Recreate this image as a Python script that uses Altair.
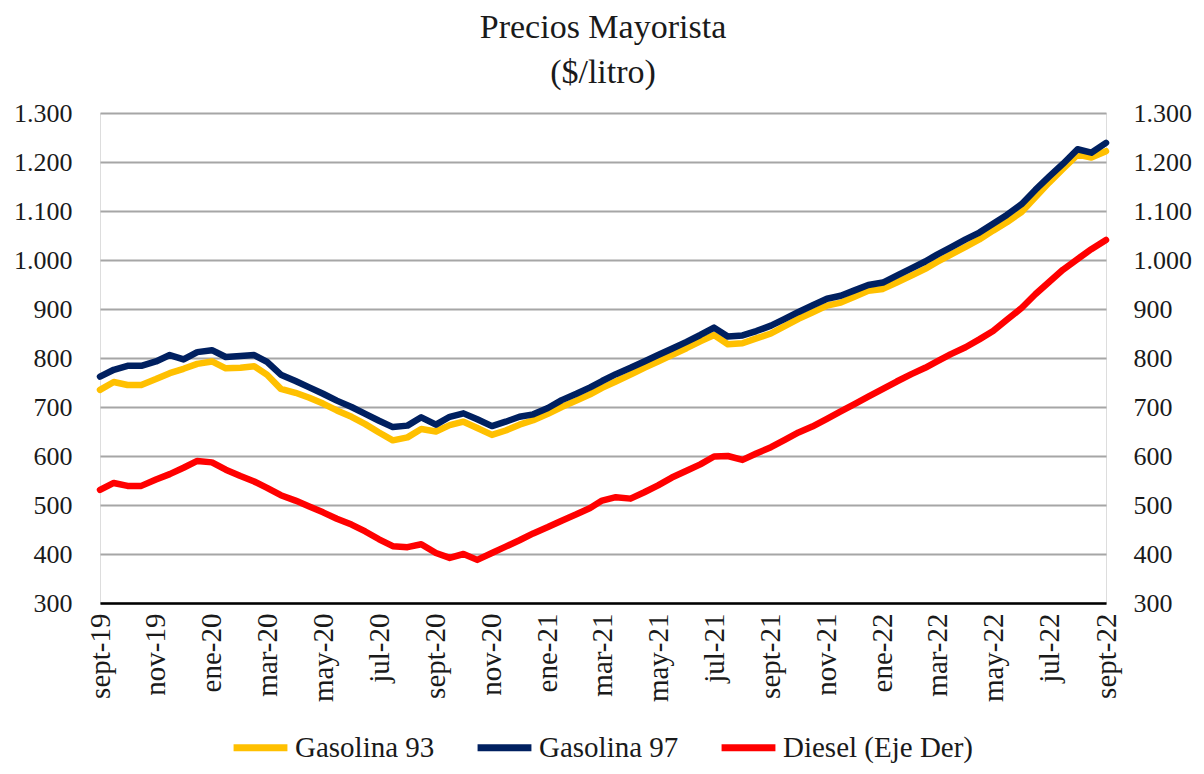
import altair as alt
import pandas as pd

# semimonthly observation dates, sept-2019 .. sept-2022
months = []
y, m = 2019, 9
while (y, m) <= (2022, 9):
    months.append((y, m))
    m += 1
    if m > 12:
        m, y = 1, y + 1
dates = []
for (yy, mm) in months:
    dates.append(f"{yy}-{mm:02d}-01")
    if (yy, mm) != (2022, 9):
        dates.append(f"{yy}-{mm:02d}-16")

gasolina_97 = [762, 776, 784, 784, 793, 806, 797, 812, 816, 802, 804, 806, 792, 766, 753, 740,
               727, 713, 700, 686, 672, 659, 662, 679, 664, 680, 687, 675, 661, 670, 680, 685,
               698, 714, 727, 740, 753, 767, 780, 793, 806, 819, 833, 847, 862, 844, 846, 855,
               866, 880, 894, 907, 921, 927, 938, 949, 954, 968, 983, 997, 1011, 1026, 1042, 1056,
               1074, 1092, 1114, 1143, 1170, 1196, 1226, 1219, 1239]
gasolina_93 = [735, 751, 745, 745, 757, 769, 778, 788, 793, 779, 780, 783, 766, 737, 729, 719,
               707, 693, 680, 665, 648, 632, 638, 655, 650, 663, 670, 657, 643, 652, 664, 673,
               686, 700, 713, 726, 739, 752, 766, 780, 793, 806, 820, 834, 847, 828, 830, 840,
               850, 865, 880, 893, 907, 913, 925, 937, 941, 954, 968, 982, 996, 1011, 1027, 1042,
               1060, 1077, 1098, 1128, 1158, 1186, 1215, 1209, 1222]
diesel = [531, 545, 539, 539, 552, 563, 576, 590, 587, 572, 559, 548, 535, 520, 509, 497,
          485, 472, 460, 446, 430, 416, 414, 420, 402, 392, 400, 388, 402, 415, 428, 442,
          455, 468, 481, 494, 509, 516, 513, 526, 540, 556, 570, 583, 599, 600, 592, 605,
          618, 633, 648, 660, 676, 691, 706, 721, 737, 752, 767, 780, 793, 808, 822, 838,
          855, 878, 902, 930, 955, 980, 1002, 1022, 1041]

series_names = ["Gasolina 93", "Gasolina 97", "Diesel (Eje Der)"]
series_colors = ["#FFC000", "#002060", "#FF0000"]
y_ticks = [300, 400, 500, 600, 700, 800, 900, 1000, 1100, 1200, 1300]
month_names = ["ene", "feb", "mar", "abr", "may", "jun", "jul", "ago", "sept", "oct", "nov", "dic"]
x_tick_months = months[::2]

rows = []
for name, vals in zip(series_names, [gasolina_93, gasolina_97, diesel]):
    for d, v in zip(dates, vals):
        rows.append({"fecha": d, "serie": name, "valor": v})
df = pd.DataFrame(rows)

FONT = "Liberation Serif"
TXT = "#1a1a1a"

label_expr = ("[" + ",".join(f"'{s}'" for s in month_names) + "][utcmonth(datum.value)]"
              " + '-' + utcFormat(datum.value, '%y')")

x_enc = alt.X(
    "fecha:T",
    scale=alt.Scale(type="utc",
                    domain=[alt.DateTime(year=2019, month=9, date=1, utc=True),
                            alt.DateTime(year=2022, month=9, date=1, utc=True)]),
    axis=alt.Axis(
        values=[alt.DateTime(year=yy, month=mm, date=1, utc=True) for (yy, mm) in x_tick_months],
        labelExpr=label_expr, labelAngle=270, labelAlign="right", labelBaseline="middle",
        labelFontSize=29, labelFont=FONT, labelColor=TXT, labelPadding=10,
        ticks=False, grid=False, domain=True, domainColor="#000000", domainWidth=2.5,
        labelOverlap=False, labelFlush=False, title=None),
)

color_enc = alt.Color(
    "serie:N",
    scale=alt.Scale(domain=series_names, range=series_colors),
    legend=alt.Legend(orient="none", legendX=130, legendY=604, direction="horizontal",
                      title=None, symbolType="stroke", symbolSize=2900, symbolStrokeWidth=7,
                      labelFontSize=29, labelFont=FONT, labelColor=TXT, labelOffset=4,
                      columnPadding=28, labelLimit=400),
)

yscale = alt.Scale(domain=[300, 1300], nice=False, zero=False)
ylabel = "replace(format(datum.value, ','), ',', '.')"

base = alt.Chart(df)

left = base.transform_filter(
    alt.FieldOneOfPredicate(field="serie", oneOf=series_names[:2])
).mark_line(strokeWidth=6.5, strokeJoin="round", strokeCap="round").encode(
    x=x_enc,
    y=alt.Y("valor:Q", scale=yscale,
            axis=alt.Axis(orient="left", values=y_ticks, labelExpr=ylabel, labelFontSize=26,
                          labelFont=FONT, labelColor=TXT, labelPadding=28, ticks=False,
                          domain=False, grid=True, gridColor="#a6a6a6", gridWidth=2, title=None)),
    color=color_enc,
)

right = base.transform_filter(
    alt.FieldEqualPredicate(field="serie", equal=series_names[2])
).mark_line(strokeWidth=6.5, strokeJoin="round", strokeCap="round").encode(
    x=x_enc,
    y=alt.Y("valor:Q", scale=yscale,
            axis=alt.Axis(orient="right", values=y_ticks, labelExpr=ylabel, labelFontSize=26,
                          labelFont=FONT, labelColor=TXT, labelPadding=27, ticks=False,
                          domain=False, grid=False, title=None)),
    color=color_enc,
)

chart = alt.layer(left, right).resolve_scale(y="independent").properties(
    width=1006,
    height=490,
    autosize=alt.AutoSizeParams(type="none"),
    padding={"left": 92, "top": 105, "right": 90, "bottom": 166},
    title=alt.TitleParams(["Precios Mayorista", "($/litro)"], font=FONT, fontSize=34,
                          fontWeight="normal", color=TXT, lineHeight=45, offset=10,
                          anchor="middle"),
).configure_view(stroke=None).configure(background="white")

chart.save("out.html", embed_options={"renderer": "svg", "actions": False})
